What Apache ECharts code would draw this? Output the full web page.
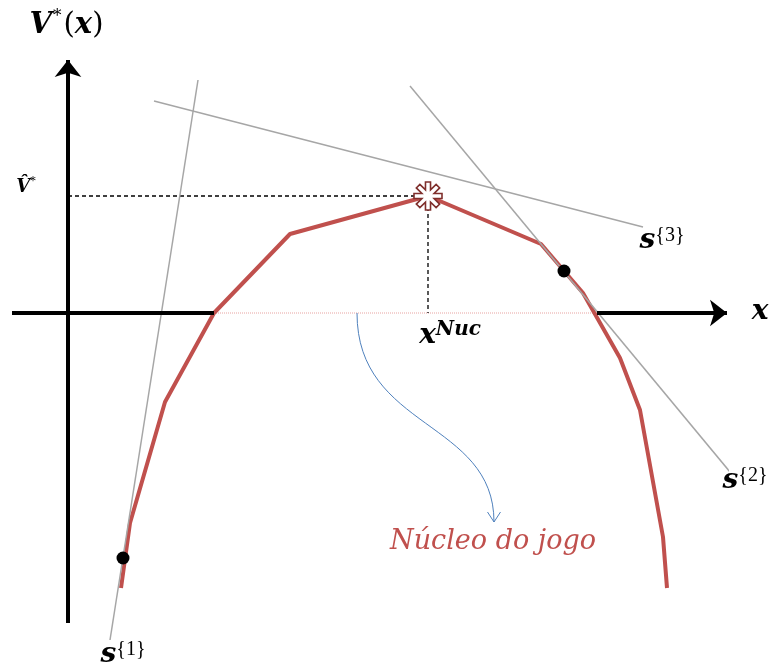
<!DOCTYPE html>
<html>
<head>
<meta charset="utf-8">
<script src="https://cdn.jsdelivr.net/npm/echarts@6/dist/echarts.min.js"></script>
<style>
  html, body { margin: 0; padding: 0; background: #ffffff; }
  #chart { width: 769px; height: 666px; }
</style>
</head>
<body>
<div id="chart"></div>
<script>
// Piecewise-linear value function V*(x)
const valueCurve = [[53, -275], [62, -210], [97, -89], [146, 0], [222, 79], [360, 117],
                    [473, 69], [515, 20], [552, -45], [572, -97], [595, -224], [599, -275]];
// Supporting lines s{1}, s{2}, s{3}
const support1 = [[130, 233], [42, -327]];
const support2 = [[342, 227], [662, -159]];
const support3 = [[86, 212], [575, 86]];
// Points where the supporting lines touch the curve
const touchPoints = [[55, -245], [496, 42]];
// Nucleolus (x^Nuc, V-hat*)
const nucleolus = [360, 117];
// Core of the game on the x axis
const coreInterval = [146, 529];
// Axis extents
const xAxisRange = [-56, 659];
const yAxisRange = [-310, 253];
// Pointer from the core to its caption
const pointerCurve = [[289, 0], [289, -117], [426, -107], [426, -209]];
// Texts
const supportNames = ['{1}', '{2}', '{3}'];
const coreCaption = 'Núcleo do jogo';

const serif = 'DejaVu Serif';
const red = '#c0504d';
const grey = '#a6a6a6';

// 8-armed asterisk outline used for the nucleolus marker
function asteriskPath(arms, halfWidth, length) {
  const pts = [];
  const inner = halfWidth / Math.sin(Math.PI / arms);
  for (let k = 0; k < arms; k++) {
    const t = -Math.PI / 2 + k * 2 * Math.PI / arms;
    const dx = Math.cos(t), dy = Math.sin(t);
    const px = -dy, py = dx;
    pts.push([length * dx - halfWidth * px, length * dy - halfWidth * py]);
    pts.push([length * dx + halfWidth * px, length * dy + halfWidth * py]);
    const m = t + Math.PI / arms;
    pts.push([inner * Math.cos(m), inner * Math.sin(m)]);
  }
  return 'path://M' + pts.map(p => p[0].toFixed(3) + ',' + p[1].toFixed(3)).join('L') + 'Z';
}

const sRich = {
  s: { fontFamily: serif, fontWeight: 'bold', fontStyle: 'italic', fontSize: 28, lineHeight: 28, padding: [10, 0, 0, 0], color: '#000' }
};
function supportLabel(pos, sup) {
  return {
    value: pos,
    label: {
      show: true, position: 'inside', opacity: 1,
      formatter: () => '{s|s}' + sup,
      fontFamily: 'Liberation Serif', fontSize: 20, lineHeight: 20, color: '#000',
      rich: sRich
    }
  };
}

const labelItems = [
  {
    value: [-1.5, 288],
    label: {
      show: true, position: 'inside', opacity: 1,
      formatter: '{v|V}{st|*}{p|(}{v|x}{p|)}',
      rich: {
        v: { fontFamily: serif, fontWeight: 'bold', fontStyle: 'italic', fontSize: 29, lineHeight: 34, color: '#000' },
        st: { fontFamily: serif, fontSize: 17, lineHeight: 17, verticalAlign: 'top', padding: [0, 2, 0, 1], color: '#000' },
        p: { fontFamily: serif, fontSize: 29, lineHeight: 34, color: '#000' }
      }
    }
  },
  {
    value: [-42, 126],
    label: {
      show: true, position: 'inside', opacity: 1,
      formatter: '{v|V\u0302}{st|*}',
      rich: {
        v: { fontFamily: serif, fontWeight: 'bold', fontStyle: 'italic', fontSize: 18, lineHeight: 22, color: '#000' },
        st: { fontFamily: serif, fontSize: 11, lineHeight: 11, verticalAlign: 'top', color: '#000' }
      }
    }
  },
  {
    value: [692, 1],
    label: {
      show: true, position: 'inside', opacity: 1, formatter: 'x',
      fontFamily: serif, fontWeight: 'bold', fontStyle: 'italic', fontSize: 28, color: '#000'
    }
  },
  {
    value: [382, -17],
    label: {
      show: true, position: 'inside', opacity: 1,
      formatter: '{x|x}{n|Nuc}',
      rich: {
        x: { fontFamily: serif, fontWeight: 'bold', fontStyle: 'italic', fontSize: 28, lineHeight: 28, padding: [12, 0, 0, 0], color: '#000' },
        n: { fontFamily: serif, fontWeight: 'bold', fontStyle: 'italic', fontSize: 20, lineHeight: 22, color: '#000' }
      }
    }
  },
  supportLabel([55, -337], supportNames[0]),
  supportLabel([677, -163], supportNames[1]),
  supportLabel([594, 77], supportNames[2]),
  {
    value: [425, -229],
    label: {
      show: true, position: 'inside', opacity: 1, formatter: () => coreCaption,
      fontFamily: serif, fontStyle: 'italic', fontSize: 27, color: red
    }
  }
];

function segment(data, color, width, type, z) {
  return {
    type: 'line', data: data, clip: false, silent: true, symbol: 'none', z: z,
    lineStyle: { color: color, width: width, type: type },
    emphasis: { disabled: true }
  };
}

const chart = echarts.init(document.getElementById('chart'));
chart.setOption({
  animation: false,
  backgroundColor: '#ffffff',
  grid: { left: 12, right: 42, top: 60, bottom: 43 },
  xAxis: { type: 'value', min: xAxisRange[0], max: xAxisRange[1], show: false },
  yAxis: { type: 'value', min: yAxisRange[0], max: yAxisRange[1], show: false },
  series: [
    {
      type: 'line', data: [], clip: false, silent: true, z: 1,
      markLine: {
        silent: true, animation: false,
        symbol: ['none', 'none'],
        label: { show: false },
        lineStyle: { color: '#000', width: 4, type: 'solid' },
        emphasis: { disabled: true },
        data: [
          [{ coord: [0, yAxisRange[0]] }, { coord: [0, yAxisRange[1]], symbol: 'arrow', symbolSize: [20, 17] }],
          [{ coord: [xAxisRange[0], 0] }, { coord: [coreInterval[0], 0] }],
          [{ coord: [coreInterval[1], 0] }, { coord: [xAxisRange[1], 0], symbol: 'arrow', symbolSize: [20, 17] }]
        ]
      }
    },
    segment([[coreInterval[0], 0], [coreInterval[1], 0]], '#e8a3a1', 1, 'dotted', 2),
    segment([[0, nucleolus[1]], nucleolus, [nucleolus[0], 0]], '#000', 1.3, [4, 3], 2),
    segment(valueCurve, red, 4, 'solid', 3),
    segment(support1, grey, 1.5, 'solid', 4),
    segment(support2, grey, 1.5, 'solid', 4),
    segment(support3, grey, 1.5, 'solid', 4),
    {
      type: 'scatter', data: touchPoints, clip: false, silent: true, z: 5,
      symbol: 'circle', symbolSize: 13, itemStyle: { color: '#000', opacity: 1 }
    },
    {
      type: 'scatter', data: [nucleolus], clip: false, silent: true, z: 6,
      symbol: asteriskPath(8, 0.18, 1), symbolSize: 28,
      itemStyle: { color: '#ffffff', borderColor: '#7f2f2c', borderWidth: 1.6, opacity: 1 }
    },
    {
      type: 'scatter', data: labelItems, clip: false, silent: true, z: 7,
      symbol: 'circle', symbolSize: 1, itemStyle: { color: 'rgba(0,0,0,0)', opacity: 1 }
    }
  ]
});

// Curved pointer from the core interval to its caption
const p = pointerCurve.map(v => chart.convertToPixel({ gridIndex: 0 }, v));
const tip = p[3];
chart.setOption({
  graphic: [
    {
      type: 'bezierCurve', silent: true, z: 8,
      shape: { x1: p[0][0], y1: p[0][1], cpx1: p[1][0], cpy1: p[1][1], cpx2: p[2][0], cpy2: p[2][1], x2: tip[0], y2: tip[1] },
      style: { stroke: '#4f81bd', lineWidth: 1, fill: null }
    },
    {
      type: 'polyline', silent: true, z: 8,
      shape: { points: [[tip[0] - 6.5, tip[1] - 10], tip, [tip[0] + 6.5, tip[1] - 10]] },
      style: { stroke: '#4f81bd', lineWidth: 1, fill: null }
    }
  ]
});
</script>
</body>
</html>
